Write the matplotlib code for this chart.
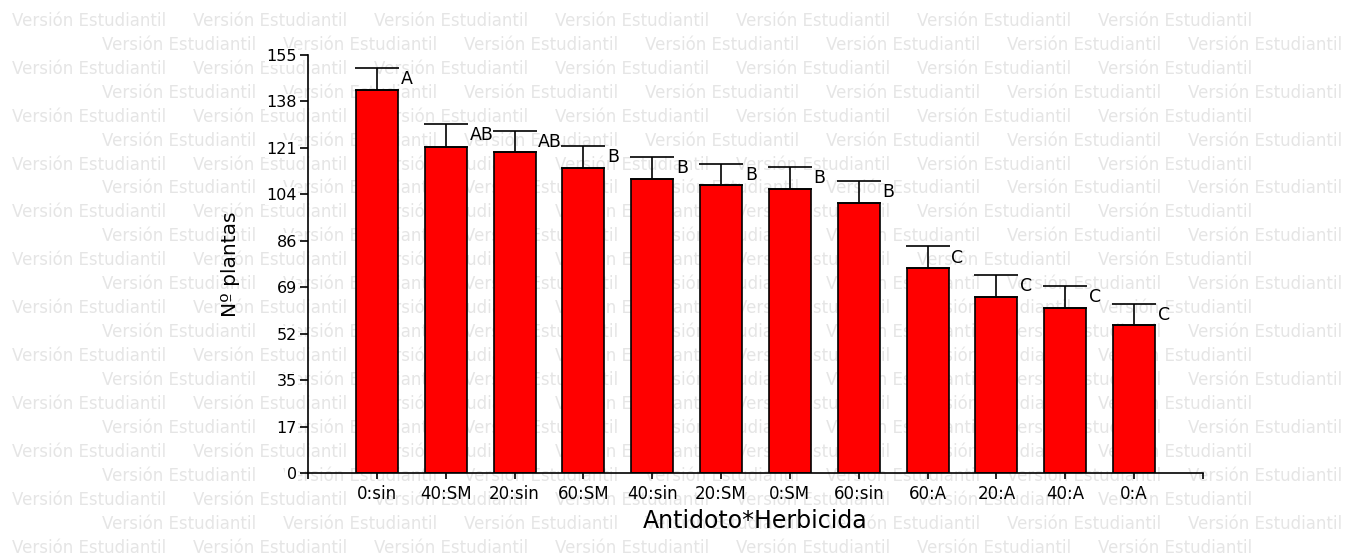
import numpy as np
import matplotlib
matplotlib.use("Agg")
import matplotlib.pyplot as plt

# data
categories = ["0:sin", "40:SM", "20:sin", "60:SM", "40:sin", "20:SM",
              "0:SM", "60:sin", "60:A", "20:A", "40:A", "0:A"]
means = [142.0, 121.0, 118.9, 113.2, 109.0, 106.9, 105.3, 100.1, 75.9, 65.3, 61.2, 54.8]
errors = [8.3, 8.3, 7.9, 8.0, 8.3, 7.8, 8.3, 8.2, 8.1, 8.2, 8.3, 7.8]
groups = ["A", "AB", "AB", "B", "B", "B", "B", "B", "C", "C", "C", "C"]
ytick_labels = ["0", "17", "35", "52", "69", "86", "104", "121", "138", "155"]
watermark = "Versión Estudiantil"

W, H = 1354, 557
fig = plt.figure(figsize=(W / 100, H / 100), dpi=100)

# student-version watermark behind everything
for k in range(23):
    yy = 20.7 + 23.97 * k
    xx = 11.7 if k % 2 == 0 else 101.7
    while xx + 157 <= W:
        fig.text(xx / W, 1 - yy / H, watermark, fontsize=12, color="#e5e5e5",
                 ha="left", va="center", zorder=-5)
        xx += 181

ax = fig.add_axes([308 / W, 1 - 473 / H, (1203 - 308) / W, (473 - 55) / H])
ax.patch.set_visible(False)

x = np.arange(len(categories))
ax.bar(x, means, width=0.61, color="#ff0000", edgecolor="black", linewidth=1.2, zorder=2)
ax.errorbar(x, means, yerr=[np.zeros(len(x)), errors], fmt="none", ecolor="black",
            elinewidth=1.2, capsize=15.5, capthick=1.2, zorder=3)

for i in range(len(x)):
    ax.annotate(groups[i], (x[i] + 0.305, means[i] + errors[i]), xytext=(2, -8),
                textcoords="offset points", ha="left", va="center", fontsize=12.5)

ax.set_xlim(-1, 12)
ax.set_ylim(0, 155)
ax.set_xticks(np.arange(-1, 13))
ax.set_xticklabels([""] + categories + [""])
ax.set_yticks(np.linspace(0, 155, 10))
ax.set_yticklabels(ytick_labels)

for s in ["top", "right"]:
    ax.spines[s].set_visible(False)
for s in ["left", "bottom"]:
    ax.spines[s].set_linewidth(1.2)

ax.tick_params(axis="x", direction="out", length=4.5, width=1.2, labelsize=12, pad=4)
ax.tick_params(axis="y", direction="out", length=6, width=1.2, labelsize=11.5, pad=2)
for lab in ax.get_yticklabels():
    lab.set_bbox(dict(facecolor="white", edgecolor="none", pad=1))

ax.set_ylabel("Nº plantas", fontsize=14.5)
ax.yaxis.set_label_coords(-0.076, 0.5)
ax.set_xlabel("Antidoto*Herbicida", fontsize=17)
ax.xaxis.set_label_coords(0.5, -0.085)

fig.savefig("out.png", dpi=100)
